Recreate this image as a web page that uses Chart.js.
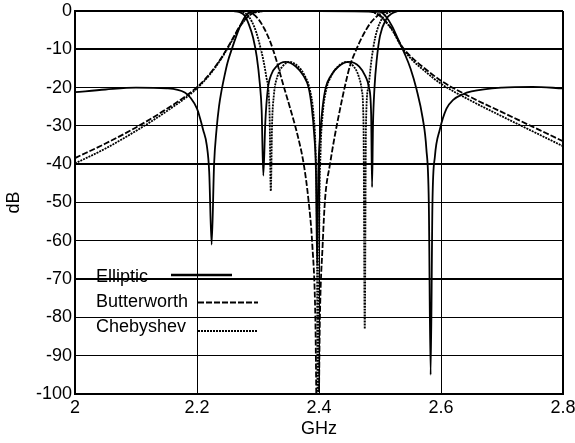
<!DOCTYPE html>
<html>
<head>
<meta charset="utf-8">
<script src="https://cdn.jsdelivr.net/npm/chart.js@4.4.1/dist/chart.umd.min.js"></script>
<style>
  html, body { margin: 0; padding: 0; background: #fff; }
</style>
</head>
<body>
<canvas id="chart" width="575" height="443"></canvas>
<script>
/* Filter responses: [GHz, dB] */

/* ─── transmission (S21) ─── */
const ellipticS21 = [
  [2.00, -21.2], [2.05, -20.5], [2.10, -20.0], [2.15, -20.2], [2.18, -21.3], [2.19, -22.8],
  [2.20, -25.5], [2.205, -28.0], [2.21, -31.0], [2.216, -35.0], [2.22, -42.0], [2.224, -61.0],
  [2.228, -40.0], [2.232, -31.0], [2.236, -25.0], [2.24, -21.0], [2.245, -17.0], [2.25, -13.5],
  [2.258, -9.5], [2.265, -6.3], [2.272, -3.5], [2.28, -1.2], [2.29, -0.2], [2.30, 0], [2.40, 0],
  [2.50, -0.2], [2.51, -1.5], [2.52, -4.0], [2.53, -7.5], [2.54, -11.0], [2.55, -15.0],
  [2.56, -20.5], [2.57, -28.0], [2.576, -36.0], [2.58, -50.0], [2.583, -95.0], [2.586, -50.0],
  [2.59, -38.0], [2.598, -31.0], [2.609, -25.5], [2.62, -23.2], [2.635, -21.8], [2.65, -21.0],
  [2.70, -20.0], [2.75, -19.8], [2.80, -20.2]
];
const butterworthS21 = [
  [2.00, -38.4], [2.05, -34.6], [2.10, -30.4], [2.15, -25.6], [2.20, -19.9], [2.225, -15.6],
  [2.24, -12.2], [2.25, -9.6], [2.26, -6.8], [2.27, -4.0], [2.28, -2.0], [2.29, -0.7],
  [2.30, -0.2], [2.32, 0], [2.48, 0], [2.50, -1.2], [2.51, -2.8], [2.52, -4.8], [2.535, -9.0],
  [2.55, -11.8], [2.575, -15.2], [2.60, -18.2], [2.65, -22.6], [2.70, -26.4], [2.75, -30.2],
  [2.80, -34.0]
];
const chebyshevS21 = [
  [2.00, -39.8], [2.05, -35.9], [2.10, -31.3], [2.15, -26.2], [2.20, -20.2], [2.225, -15.8],
  [2.24, -12.4], [2.25, -9.8], [2.26, -7.0], [2.27, -4.2], [2.28, -2.1], [2.29, -0.7],
  [2.30, -0.2], [2.32, 0], [2.48, 0], [2.50, -1.3], [2.51, -3.0], [2.52, -5.0], [2.535, -9.3],
  [2.55, -12.3], [2.575, -15.9], [2.60, -19.0], [2.65, -23.5], [2.70, -27.5], [2.75, -31.4],
  [2.80, -35.3]
];

/* ─── return loss (S11) ─── */
const ellipticS11 = [
  [2.25, 0], [2.26, -0.05], [2.27, -0.3], [2.278, -1.2], [2.285, -3.5], [2.292, -7.0],
  [2.298, -12.0], [2.303, -19.0], [2.306, -26.0], [2.3087, -43.0], [2.312, -29.0], [2.316, -20.5],
  [2.322, -16.5], [2.33, -14.5], [2.345, -13.3], [2.362, -14.5], [2.375, -17.0], [2.383, -20.0],
  [2.388, -25.0], [2.392, -32.0], [2.395, -42.0], [2.397, -66.0], [2.399, -42.0], [2.402, -32.0],
  [2.406, -25.0], [2.411, -20.0], [2.419, -17.0], [2.432, -14.5], [2.449, -13.3], [2.466, -14.5],
  [2.476, -17.0], [2.482, -20.0], [2.4855, -27.0], [2.487, -46.0], [2.4885, -30.0], [2.491, -20.0],
  [2.4946, -12.8], [2.50, -6.5], [2.51, -2.2], [2.52, -0.6], [2.53, 0]
];
const butterworthS11 = [
  [2.28, 0], [2.29, -0.6], [2.30, -2.0], [2.31, -4.5], [2.32, -8.0], [2.33, -12.8],
  [2.34, -18.5], [2.352, -25.0], [2.365, -32.5], [2.375, -40.0], [2.3825, -49.0], [2.389, -61.0],
  [2.394, -80.0], [2.3978, -125.0], [2.4015, -80.0], [2.406, -61.0], [2.41, -49.0], [2.418, -40.0],
  [2.426, -32.5], [2.434, -26.0], [2.442, -20.0], [2.451, -14.2], [2.46, -10.5], [2.47, -7.0],
  [2.485, -3.0], [2.50, -0.8], [2.515, 0]
];
const chebyshevS11 = [
  [2.26, 0], [2.272, -0.2], [2.281, -0.8], [2.29, -2.8], [2.297, -5.5], [2.303, -8.9],
  [2.309, -13.0], [2.314, -17.5], [2.317, -20.5], [2.319, -27.0], [2.321, -47.0], [2.323, -30.0],
  [2.326, -22.0], [2.332, -17.0], [2.34, -14.5], [2.352, -13.3], [2.366, -14.5], [2.377, -17.0],
  [2.385, -20.5], [2.391, -27.0], [2.3945, -37.0], [2.3965, -55.0], [2.3985, -125.0], [2.4005, -55.0],
  [2.4025, -37.0], [2.406, -27.0], [2.412, -20.5], [2.42, -17.0], [2.431, -14.5], [2.445, -13.3],
  [2.457, -14.5], [2.465, -17.0], [2.47, -20.5], [2.473, -30.0], [2.475, -83.0], [2.477, -30.0],
  [2.481, -19.8], [2.486, -12.8], [2.492, -7.0], [2.50, -3.0], [2.51, -0.8], [2.52, 0]
];

const filterNames = ['Elliptic', 'Butterworth', 'Chebyshev'];
const xTicks = [2, 2.2, 2.4, 2.6, 2.8];
const yTicks = [0, -10, -20, -30, -40, -50, -60, -70, -80, -90, -100];

/* line styles */
const DASH = { Elliptic: [], Butterworth: [6, 2], Chebyshev: [2, 1] };
const FONT = { family: "'Liberation Sans', Arial, sans-serif", size: 18 };
const BOLD_GRID = [0, -10, -40, -70, -100];

function curve(label, pts, name) {
  return {
    label,
    data: pts.map(([x, y]) => ({ x, y })),
    borderColor: '#000',
    borderWidth: 1.8,
    borderDash: DASH[name],
    pointRadius: 0,
    fill: false,
    cubicInterpolationMode: 'monotone',
  };
}

/* legend painted before the grid, so the -70 grid line runs over "Elliptic" like in the original */
const legendRows = [
  { name: filterNames[0], tx: 21, ty: 271, x0: 96,  x1: 157, ly: 264,   w: 2.5 },
  { name: filterNames[1], tx: 21, ty: 296, x0: 123, x1: 183, ly: 291.5, w: 1.8 },
  { name: filterNames[2], tx: 21, ty: 321, x0: 123, x1: 182, ly: 320,   w: 1.8 },
];

const legendPlugin = {
  id: 'filterLegend',
  beforeDraw(chart) {
    const { ctx, chartArea: a } = chart;
    ctx.save();
    ctx.fillStyle = '#fff';
    ctx.fillRect(0, 0, chart.width, chart.height);
    ctx.fillStyle = '#000';
    ctx.strokeStyle = '#000';
    ctx.font = `${FONT.size}px ${FONT.family}`;
    ctx.textBaseline = 'alphabetic';
    legendRows.forEach(r => {
      ctx.fillText(r.name, a.left + r.tx, a.top + r.ty);
      ctx.lineWidth = r.w;
      ctx.setLineDash(DASH[r.name]);
      ctx.beginPath();
      ctx.moveTo(a.left + r.x0, a.top + r.ly);
      ctx.lineTo(a.left + r.x1, a.top + r.ly);
      ctx.stroke();
    });
    ctx.restore();
  }
};

new Chart(document.getElementById('chart'), {
  type: 'line',
  data: {
    datasets: [
      curve('Elliptic S21', ellipticS21, 'Elliptic'),
      curve('Butterworth S21', butterworthS21, 'Butterworth'),
      curve('Chebyshev S21', chebyshevS21, 'Chebyshev'),
      curve('Elliptic S11', ellipticS11, 'Elliptic'),
      curve('Butterworth S11', butterworthS11, 'Butterworth'),
      curve('Chebyshev S11', chebyshevS11, 'Chebyshev'),
    ],
  },
  options: {
    responsive: false,
    animation: false,
    layout: { padding: { top: 11, right: 12, left: 0, bottom: 0 } },
    plugins: { legend: { display: false }, tooltip: { enabled: false } },
    scales: {
      x: {
        type: 'linear',
        min: xTicks[0],
        max: xTicks[xTicks.length - 1],
        afterBuildTicks: s => { s.ticks = xTicks.map(value => ({ value })); },
        ticks: {
          color: '#000', font: FONT, padding: 3, maxRotation: 0, autoSkip: false,
          callback: v => String(+(+v).toFixed(1)),
        },
        grid: {
          color: '#000', drawTicks: false,
          lineWidth: c => (c.index === 0 || c.index === xTicks.length - 1) ? 2 : 1,
        },
        border: { display: true, color: '#000', width: 2 },
        title: { display: true, text: 'GHz', color: '#000', font: FONT, padding: { top: 0, bottom: 3 } },
        afterFit: s => { s.height = 49; s.paddingLeft = 0; s.paddingRight = 0; },
      },
      y: {
        type: 'linear',
        min: yTicks[yTicks.length - 1],
        max: yTicks[0],
        afterBuildTicks: s => { s.ticks = yTicks.map(value => ({ value })); },
        ticks: { color: '#000', font: FONT, padding: 3, autoSkip: false },
        grid: {
          color: '#000', drawTicks: false,
          lineWidth: c => (c.tick && BOLD_GRID.includes(c.tick.value)) ? 2 : 1,
        },
        border: { display: true, color: '#000', width: 2 },
        title: { display: true, text: 'dB', color: '#000', font: FONT, padding: { top: 3, bottom: 0 } },
        afterFit: s => { s.width = 75; s.paddingTop = 0; s.paddingBottom = 0; },
      },
    },
  },
  plugins: [legendPlugin],
});
</script>
</body>
</html>
